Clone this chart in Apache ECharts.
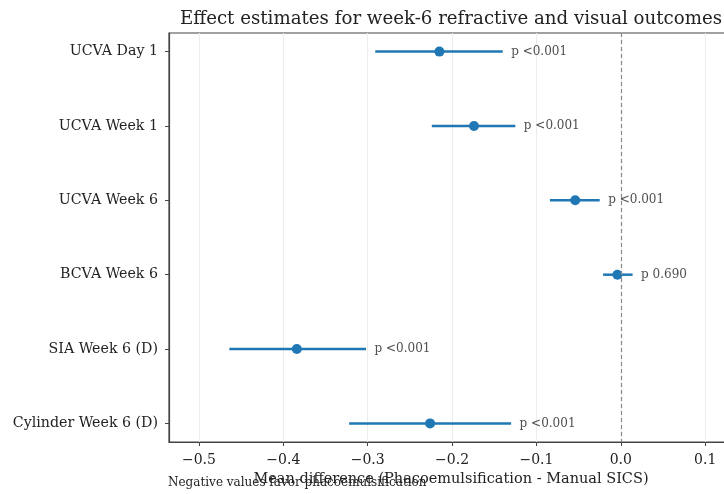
<!DOCTYPE html>
<html>
<head>
<meta charset="utf-8">
<script src="https://cdn.jsdelivr.net/npm/echarts@6/dist/echarts.min.js"></script>
<style>
  html, body { margin: 0; padding: 0; background: #fff; }
  #main { width: 724px; height: 494px; }
</style>
</head>
<body>
<div id="main"></div>
<script>
// outcomes, top to bottom
const outcomes = ["UCVA Day 1", "UCVA Week 1", "UCVA Week 6", "BCVA Week 6", "SIA Week 6 (D)", "Cylinder Week 6 (D)"];
const estimates = [-0.215, -0.174, -0.054, -0.004, -0.384, -0.226];
const ciLow = [-0.291, -0.224, -0.084, -0.021, -0.464, -0.322];
const ciHigh = [-0.140, -0.125, -0.025, 0.014, -0.302, -0.130];
const pLabels = ["p <0.001", "p <0.001", "p <0.001", "p 0.690", "p <0.001", "p <0.001"];
const xTicks = [-0.5, -0.4, -0.3, -0.2, -0.1, 0.0, 0.1];

const font = "DejaVu Serif";
const blue = "#1f77b4";

var myChart = echarts.init(document.getElementById("main"), null, { renderer: "canvas" });

var barData = [];
var pointData = [];
var labelData = [];
for (var i = 0; i < outcomes.length; i++) {
  barData.push([ciLow[i], ciHigh[i], i]);
  pointData.push([estimates[i], i]);
  labelData.push({ value: [ciHigh[i], i], label: { formatter: pLabels[i] } });
}

function fmtTick(v) {
  var s = Math.abs(v).toFixed(1);
  return v < -1e-9 ? "\u2212" + s : s;
}

var option = {
  animation: false,
  backgroundColor: "#fff",
  title: {
    text: "Effect estimates for week-6 refractive and visual outcomes",
    left: 446,
    textAlign: "center",
    top: 5,
    textStyle: { fontFamily: font, fontSize: 18.2, fontWeight: "normal", color: "#222" }
  },
  grid: {
    left: 169, right: -9, top: 33, bottom: 52,
    outerBoundsMode: "none",
    show: true, borderColor: "#444", borderWidth: 1.2, backgroundColor: "transparent"
  },
  xAxis: {
    type: "value",
    min: -0.5355,
    max: 0.133,
    name: "Mean difference (Phacoemulsification - Manual SICS)",
    nameLocation: "middle",
    nameGap: 28,
    nameTextStyle: { fontFamily: font, fontSize: 14.5, color: "#222" },
    axisLine: { show: true, onZero: false, lineStyle: { color: "#444", width: 1.2 } },
    axisTick: { show: true, length: 4, customValues: xTicks, lineStyle: { color: "#444" } },
    axisLabel: { customValues: xTicks, formatter: fmtTick, fontFamily: font, fontSize: 14, color: "#222", margin: 11 },
    splitLine: { show: true, lineStyle: { color: "#ececec", width: 1 } }
  },
  yAxis: {
    type: "value",
    inverse: true,
    min: -0.25,
    max: 5.25,
    axisLine: { show: true, onZero: false, lineStyle: { color: "#444", width: 1.2 } },
    axisTick: { show: true, length: 4, customValues: [0, 1, 2, 3, 4, 5], lineStyle: { color: "#444" } },
    axisLabel: {
      customValues: [0, 1, 2, 3, 4, 5],
      formatter: function (v) { return outcomes[Math.round(v)]; },
      fontFamily: font, fontSize: 14.2, color: "#222", margin: 11
    },
    splitLine: { show: false }
  },
  series: [
    {
      type: "custom",
      data: barData,
      z: 2,
      renderItem: function (params, api) {
        var p1 = api.coord([api.value(0), api.value(2)]);
        var p2 = api.coord([api.value(1), api.value(2)]);
        return {
          type: "line",
          shape: { x1: p1[0], y1: p1[1], x2: p2[0], y2: p2[1] },
          style: { stroke: blue, lineWidth: 2.5 }
        };
      }
    },
    {
      type: "scatter",
      data: pointData,
      symbol: "circle",
      symbolSize: 10,
      itemStyle: { color: blue, opacity: 1 },
      z: 3,
      markLine: {
        silent: true,
        symbol: "none",
        label: { show: false },
        lineStyle: { color: "#888", type: [4, 3], width: 1.2 },
        data: [{ xAxis: 0 }]
      }
    },
    {
      type: "scatter",
      data: labelData,
      symbolSize: 1,
      itemStyle: { color: "rgba(0,0,0,0)" },
      label: {
        show: true,
        position: "right",
        distance: 8,
        fontFamily: font,
        fontSize: 12,
        color: "#222"
      },
      z: 4
    }
  ],
  graphic: [
    {
      type: "text",
      left: 168,
      top: 477,
      style: { text: "Negative values favor phacoemulsification", fontFamily: font, fontSize: 12, fill: "#222" }
    }
  ]
};

myChart.setOption(option);
</script>
</body>
</html>
